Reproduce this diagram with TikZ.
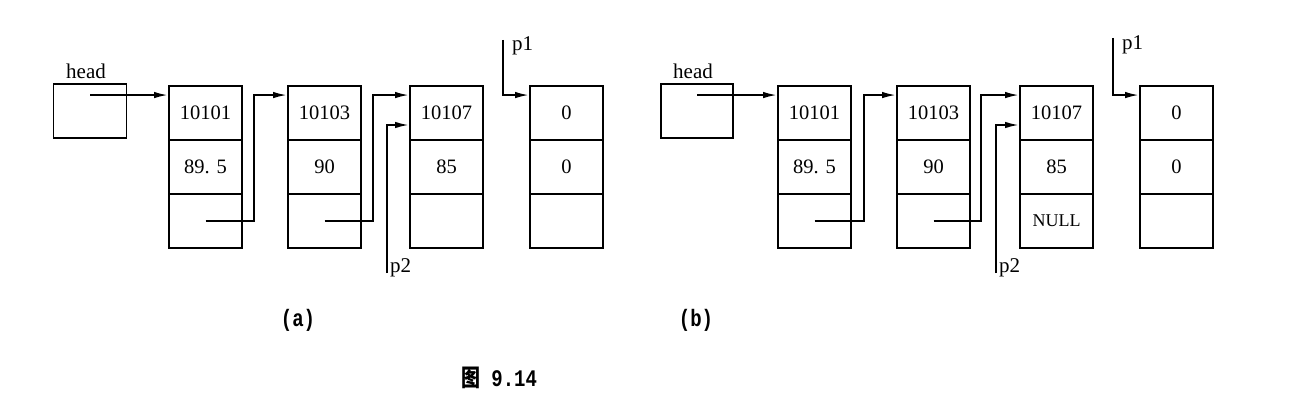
\documentclass[tikz,border=0pt]{standalone}
\usepackage{fontspec}
\setmainfont{Liberation Serif}
\setmonofont{Liberation Mono}
\newfontfamily\cjk{Noto Sans CJK SC}
\usetikzlibrary{arrows.meta,calc}
\newcommand{\tallcap}[1]{\scalebox{1}[1.25]{#1}}
\begin{document}
\begin{tikzpicture}[x=1pt,y=-1pt,
  cell/.style={draw,line width=1.9pt,minimum width=73pt,minimum height=54pt,inner sep=0pt,font=\fontsize{20.5}{24}\selectfont},
  headbox/.style={draw,line width=1.9pt,minimum width=73pt,minimum height=54pt,inner sep=0pt},
  ptr/.style={line width=1.9pt,-{Latex[length=14pt,width=6.5pt]}},
  lbl/.style={font=\fontsize{21}{24}\selectfont,inner sep=0pt},
  captext/.style={font=\ttfamily\bfseries\fontsize{19}{22}\selectfont,inner sep=0pt}]
\useasboundingbox (0,0) rectangle (1292,406);

% ---------- panel (a) ----------
\node[headbox] (ha) at (90,111) {};
\node[lbl,anchor=base west] (hla) at (66,79) {head};
\node[cell] (a1a) at (205.5,113) {10101};
\node[cell] (a1b) at (205.5,167) {89. 5};
\node[cell] (a1c) at (205.5,221) {};
\node[cell] (a2a) at (324.5,113) {10103};
\node[cell] (a2b) at (324.5,167) {90};
\node[cell] (a2c) at (324.5,221) {};
\node[cell] (a3a) at (446.5,113) {10107};
\node[cell] (a3b) at (446.5,167) {85};
\node[cell] (a3c) at (446.5,221) {};
\node[cell] (a4a) at (566.5,113) {0};
\node[cell] (a4b) at (566.5,167) {0};
\node[cell] (a4c) at (566.5,221) {};
\draw[ptr] ([yshift=16pt]ha.center) -- ([yshift=-10pt]a1a.north west);
\draw[ptr] (a1c.center) -- ([xshift=11pt]a1c.east) |- ([yshift=-10pt]a2a.north west);
\draw[ptr] (a2c.center) -- ([xshift=11pt]a2c.east) |- ([yshift=-10pt]a3a.north west);
\coordinate (p2a) at (387,273);
\draw[ptr] (p2a) |- ([yshift=-12pt]a3a.west);
\node[lbl,anchor=base west] (p2la) at (390,272) {p2};
\coordinate (p1a) at (503,40);
\draw[ptr] (p1a) |- ([yshift=-10pt]a4a.north west);
\node[lbl,anchor=base west] (p1la) at (512,51) {p1};
\node[captext] (capa) at (298,320) {\tallcap{(a)}};

% ---------- panel (b) ----------
\node[headbox,minimum width=72pt] (hb) at (697,111) {};
\node[lbl,anchor=base west] (hlb) at (673,79) {head};
\node[cell] (b1a) at (814.5,113) {10101};
\node[cell] (b1b) at (814.5,167) {89. 5};
\node[cell] (b1c) at (814.5,221) {};
\node[cell] (b2a) at (933.5,113) {10103};
\node[cell] (b2b) at (933.5,167) {90};
\node[cell] (b2c) at (933.5,221) {};
\node[cell] (b3a) at (1056.5,113) {10107};
\node[cell] (b3b) at (1056.5,167) {85};
\node[cell,font=\fontsize{18}{22}\selectfont] (b3c) at (1056.5,221) {NULL};
\node[cell] (b4a) at (1176.5,113) {0};
\node[cell] (b4b) at (1176.5,167) {0};
\node[cell] (b4c) at (1176.5,221) {};
\draw[ptr] ([yshift=16pt]hb.center) -- ([yshift=-10pt]b1a.north west);
\draw[ptr] (b1c.center) -- ([xshift=12pt]b1c.east) |- ([yshift=-10pt]b2a.north west);
\draw[ptr] (b2c.center) -- ([xshift=10pt]b2c.east) |- ([yshift=-10pt]b3a.north west);
\coordinate (p2b) at (996,273);
\draw[ptr] (p2b) |- ([yshift=-12pt]b3a.west);
\node[lbl,anchor=base west] (p2lb) at (999,272) {p2};
\coordinate (p1b) at (1113,38);
\draw[ptr] (p1b) |- ([yshift=-10pt]b4a.north west);
\node[lbl,anchor=base west] (p1lb) at (1122,50) {p1};
\node[captext] (capb) at (696,320) {\tallcap{(b)}};

% ---------- figure caption ----------
\node[captext] (fig) at (499,378) {\tallcap{{\cjk\bfseries 图} 9.14}};
\end{tikzpicture}
\end{document}
